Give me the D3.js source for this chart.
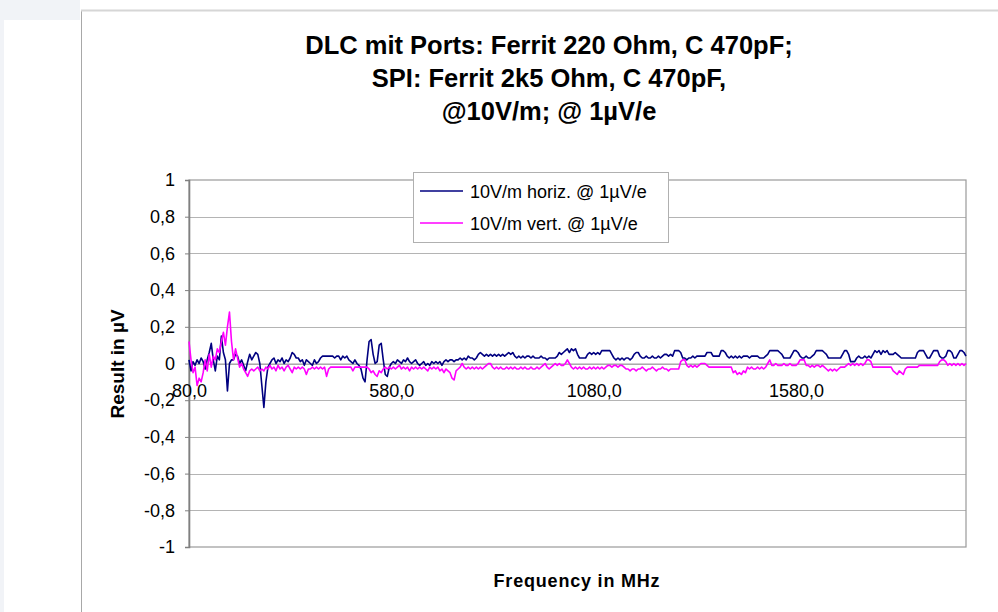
<!DOCTYPE html>
<html><head><meta charset="utf-8">
<script src="https://cdn.jsdelivr.net/npm/d3@7"></script>
<style>
body{margin:0;background:#fff;}
svg{display:block;font-family:"Liberation Sans",Arial,Helvetica,sans-serif;}
</style>
</head><body>
<svg id="c" width="998" height="612"></svg>
<script>
// ---------------- data ----------------
const titleLines = ["DLC mit Ports: Ferrit 220 Ohm, C 470pF;", "SPI: Ferrit 2k5 Ohm, C 470pF,", "@10V/m; @ 1µV/e"];
const seriesNames = ["10V/m horiz. @ 1µV/e", "10V/m vert. @ 1µV/e"];
const seriesColors = ["#000080", "#ff00ff"];
const xTitle = "Frequency in MHz";
const yTitle = "Result in µV";
const freqStart = 80, freqEnd = 2000, freqStep = 5;   // MHz
const frequencies = d3.range(freqStart, freqEnd + 1, freqStep);
const xTicks = [80, 580, 1080, 1580];
const yTicks = [1, 0.8, 0.6, 0.4, 0.2, 0, -0.2, -0.4, -0.6, -0.8, -1];

const horizValues = [
 0.02,-0.04,0.01,-0.01,0.02,0.0,0.03,0.01,-0.03,0.02,0.06,0.11,0.02,-0.04,0.04,0.02,0.15,0.06,0.02,-0.15,
 0.0,0.02,0.02,0.05,0.04,0.0,0.02,-0.01,-0.04,0.01,0.05,0.02,0.04,0.06,0.05,0.0,-0.12,-0.24,-0.1,-0.02,
 0.0,0.02,0.03,0.0,0.02,0.01,0.03,0.0,0.02,0.01,0.03,0.06,0.05,0.03,0.03,0.01,0.02,-0.01,0.02,0.01,
 0.0,-0.01,0.02,0.0,0.01,0.03,0.04,0.04,0.04,0.04,0.04,0.04,0.03,0.04,0.04,0.02,0.04,0.03,0.04,0.02,
 0.01,0.0,0.02,0.0,-0.01,-0.03,-0.08,-0.1,0.02,0.12,0.13,0.05,0.0,0.01,0.1,0.11,0.02,-0.06,-0.07,-0.02,
 0.0,0.01,0.0,0.02,0.01,0.0,0.02,0.01,0.03,0.01,0.0,0.01,0.02,0.0,-0.01,0.0,0.01,-0.01,0.0,-0.01,
 0.01,0.0,0.01,0.0,0.01,-0.01,0.01,0.02,0.01,0.02,0.02,0.01,0.02,0.02,0.03,0.02,0.03,0.02,0.04,0.03,
 0.03,0.02,0.03,0.05,0.06,0.05,0.04,0.05,0.04,0.05,0.04,0.05,0.04,0.05,0.04,0.05,0.04,0.05,0.06,0.05,
 0.06,0.04,0.03,0.04,0.03,0.04,0.03,0.04,0.04,0.03,0.04,0.03,0.03,0.03,0.04,0.03,0.03,0.02,0.03,0.03,
 0.03,0.03,0.04,0.06,0.05,0.06,0.07,0.08,0.06,0.08,0.07,0.08,0.05,0.03,0.03,0.03,0.03,0.05,0.06,0.05,
 0.06,0.05,0.06,0.05,0.07,0.07,0.07,0.07,0.07,0.05,0.03,0.02,0.03,0.02,0.03,0.02,0.03,0.03,0.02,0.03,
 0.05,0.06,0.06,0.04,0.03,0.03,0.04,0.03,0.03,0.04,0.03,0.03,0.04,0.03,0.04,0.05,0.05,0.04,0.05,0.04,
 0.07,0.07,0.07,0.06,0.03,0.03,0.02,0.03,0.03,0.04,0.03,0.04,0.04,0.04,0.04,0.04,0.06,0.06,0.06,0.04,
 0.04,0.04,0.04,0.07,0.07,0.06,0.04,0.03,0.04,0.03,0.04,0.03,0.04,0.03,0.04,0.04,0.04,0.03,0.04,0.04,
 0.04,0.04,0.03,0.03,0.03,0.04,0.05,0.07,0.07,0.07,0.07,0.07,0.06,0.05,0.03,0.03,0.03,0.03,0.05,0.07,
 0.07,0.06,0.04,0.03,0.03,0.04,0.03,0.03,0.04,0.05,0.07,0.07,0.07,0.07,0.06,0.05,0.03,0.03,0.03,0.03,
 0.03,0.03,0.03,0.05,0.07,0.07,0.05,0.01,0.01,0.01,0.03,0.04,0.03,0.03,0.04,0.03,0.04,0.03,0.05,0.07,
 0.06,0.07,0.05,0.07,0.06,0.07,0.05,0.05,0.05,0.06,0.05,0.04,0.03,0.03,0.03,0.03,0.03,0.03,0.03,0.03,
 0.06,0.07,0.07,0.07,0.05,0.03,0.03,0.05,0.07,0.07,0.07,0.04,0.03,0.03,0.04,0.07,0.07,0.06,0.03,0.03,
 0.05,0.07,0.07,0.06,0.04
];

const vertValues = [
 0.12,0.02,-0.05,-0.02,-0.12,-0.08,-0.1,-0.05,0.02,-0.04,0.05,-0.02,0.04,0.02,0.08,0.06,0.12,0.17,0.1,0.2,
 0.28,0.12,0.02,0.08,0.03,-0.02,0.0,-0.03,-0.05,-0.07,-0.04,-0.03,-0.04,-0.03,-0.02,-0.04,-0.03,-0.04,-0.02,-0.03,
 -0.01,-0.03,-0.02,-0.04,-0.01,-0.03,-0.02,-0.04,-0.02,-0.01,-0.03,-0.05,-0.02,-0.03,-0.02,-0.03,-0.02,-0.03,-0.06,-0.03,
 -0.03,-0.02,-0.03,-0.02,-0.03,-0.02,-0.03,-0.02,-0.07,-0.03,-0.02,-0.02,-0.02,-0.02,-0.02,-0.02,-0.02,-0.02,-0.02,-0.02,
 -0.02,-0.04,-0.02,-0.02,-0.02,-0.02,-0.02,-0.02,-0.02,-0.03,-0.05,-0.04,-0.06,-0.07,-0.04,-0.05,-0.03,-0.02,-0.03,-0.02,
 -0.03,-0.02,-0.03,-0.02,-0.01,-0.03,-0.02,-0.03,-0.02,-0.04,-0.02,-0.03,-0.02,-0.03,-0.02,-0.03,-0.02,-0.03,-0.04,-0.02,
 -0.03,-0.02,-0.03,-0.02,-0.04,-0.03,-0.05,-0.03,-0.04,-0.05,-0.08,-0.09,-0.04,-0.03,-0.02,0.0,-0.02,-0.03,-0.02,-0.03,
 -0.02,-0.03,-0.02,-0.03,-0.02,-0.03,-0.02,-0.01,0.0,0.0,-0.02,-0.03,-0.02,-0.03,-0.02,-0.03,-0.03,-0.02,-0.03,-0.02,
 -0.03,-0.02,-0.03,-0.03,-0.02,-0.03,-0.02,-0.03,-0.03,-0.02,-0.03,-0.03,-0.02,-0.03,-0.02,-0.01,0.0,-0.02,-0.03,-0.02,
 -0.01,0.0,-0.01,0.0,-0.01,-0.01,0.0,0.02,0.0,-0.02,-0.03,-0.02,-0.03,-0.02,-0.03,-0.02,-0.03,-0.03,-0.02,-0.03,
 -0.02,-0.03,-0.02,-0.03,-0.02,-0.03,-0.02,-0.01,-0.01,-0.02,-0.01,-0.01,-0.02,-0.01,-0.01,-0.02,-0.03,-0.03,-0.04,-0.03,
 -0.03,-0.04,-0.03,-0.03,-0.02,-0.03,-0.04,-0.03,-0.03,-0.02,-0.03,-0.04,-0.03,-0.03,-0.02,-0.03,-0.03,-0.04,-0.03,-0.03,
 -0.03,-0.03,-0.03,0.01,0.02,0.02,-0.01,-0.02,-0.01,-0.02,-0.01,-0.02,-0.01,0.0,0.0,0.0,-0.01,-0.02,-0.02,-0.02,
 -0.02,-0.02,-0.02,-0.02,-0.02,-0.02,-0.02,-0.02,-0.02,-0.05,-0.04,-0.06,-0.05,-0.06,-0.04,-0.05,-0.02,-0.03,-0.02,-0.03,
 -0.03,-0.02,-0.03,-0.02,-0.03,-0.02,0.0,0.02,-0.01,-0.01,0.0,-0.01,-0.01,-0.01,0.0,-0.01,-0.01,0.0,-0.01,-0.01,
 -0.01,0.0,0.02,0.02,0.02,-0.01,-0.01,-0.02,-0.01,-0.02,-0.01,-0.01,-0.02,-0.01,-0.02,-0.03,-0.04,-0.03,-0.04,-0.03,
 -0.04,-0.03,-0.02,-0.02,-0.02,-0.01,0.0,-0.01,0.0,-0.01,0.0,-0.01,0.0,-0.01,0.0,0.02,0.02,0.01,-0.02,-0.02,
 -0.02,-0.02,-0.02,-0.02,-0.02,-0.02,-0.02,-0.02,-0.04,-0.05,-0.06,-0.04,-0.05,-0.06,-0.03,-0.02,-0.02,-0.02,-0.02,-0.02,
 -0.02,-0.01,-0.01,-0.01,-0.01,-0.01,-0.01,-0.01,-0.01,-0.01,-0.01,0.01,0.02,0.02,0.01,-0.01,0.0,-0.01,0.0,-0.01,
 0.0,-0.01,0.0,-0.01,0.0
];

const seriesValues = [horizValues, vertValues];

// ---------------- drawing ----------------
const svg = d3.select("#c");
const W = 998, H = 612;
const plot = {left: 189, right: 966, top: 180, bottom: 547};

// page decoration
svg.append("rect").attr("x", 0).attr("y", 0).attr("width", W).attr("height", H).attr("fill", "#ffffff");
svg.append("rect").attr("x", 0).attr("y", 0).attr("width", 80).attr("height", 20).attr("fill", "#f1f3f7");
svg.append("rect").attr("x", 0).attr("y", 0).attr("width", 4).attr("height", H).attr("fill", "#f1f3f7");
svg.append("line").attr("x1", 81.5).attr("x2", 81.5).attr("y1", 10).attr("y2", H).attr("stroke", "#a8a8a8").attr("stroke-width", 1);
svg.append("line").attr("x1", 81).attr("x2", W).attr("y1", 10.5).attr("y2", 10.5).attr("stroke", "#d6d6d6").attr("stroke-width", 2);

const x = d3.scaleLinear().domain([freqStart, freqEnd]).range([plot.left, plot.right]);
const y = d3.scaleLinear().domain([-1, 1]).range([plot.bottom, plot.top]);

// title
svg.append("g").selectAll("text").data(titleLines).join("text")
  .attr("x", 549).attr("y", (d, i) => 54 + i * 33)
  .attr("text-anchor", "middle").attr("font-size", 25.5).attr("font-weight", "bold").attr("fill", "#000")
  .text(d => d);

// gridlines
svg.append("g").selectAll("line").data(yTicks.filter(t => t !== -1 && t !== 1)).join("line")
  .attr("x1", plot.left).attr("x2", plot.right)
  .attr("y1", d => Math.round(y(d)) + 0.5).attr("y2", d => Math.round(y(d)) + 0.5)
  .attr("stroke", "#b4b4b4").attr("stroke-width", 1);

// plot border
svg.append("rect").attr("x", plot.left).attr("y", plot.top)
  .attr("width", plot.right - plot.left).attr("height", plot.bottom - plot.top)
  .attr("fill", "none").attr("stroke", "#9a9a9a").attr("stroke-width", 1.2);

// y axis
const yAxis = d3.axisLeft(y).tickValues(yTicks).tickSize(4).tickPadding(10)
  .tickFormat(d => String(d).replace(".", ","));
const gy = svg.append("g").attr("transform", `translate(${plot.left},0)`).call(yAxis);
gy.select(".domain").attr("stroke", "#808080").attr("stroke-width", 1.6);
gy.selectAll(".tick line").attr("stroke", "#808080");
gy.selectAll(".tick text").attr("font-size", 18).attr("fill", "#000")
  .attr("font-family", "'Liberation Sans',Arial,sans-serif");

// x axis at y=0
const xAxis = d3.axisBottom(x).tickValues(xTicks).tickSize(0).tickPadding(0)
  .tickFormat(d => d.toFixed(1).replace(".", ","));
const gx = svg.append("g").attr("transform", `translate(0,${y(0)})`).call(xAxis);
gx.select(".domain").attr("stroke", "#a0a0a0").attr("stroke-width", 1);
gx.selectAll(".tick text").attr("font-size", 18).attr("fill", "#000")
  .attr("font-family", "'Liberation Sans',Arial,sans-serif").attr("dy", 0).attr("y", 33);

// series lines
const line = d3.line().x((d, i) => x(frequencies[i])).y(d => y(d));
svg.append("g").selectAll("path").data(seriesValues).join("path")
  .attr("d", d => line(d))
  .attr("fill", "none").attr("stroke", (d, i) => seriesColors[i]).attr("stroke-width", 1.6)
  .attr("stroke-linejoin", "round");

// redraw x tick labels on top
// axis titles
svg.append("text").attr("transform", "translate(124,364) rotate(-90)")
  .attr("text-anchor", "middle").attr("font-size", 19).attr("font-weight", "bold").text(yTitle);
svg.append("text").attr("x", 577).attr("y", 587)
  .attr("text-anchor", "middle").attr("font-size", 18).attr("font-weight", "bold")
  .attr("letter-spacing", 0.8).text(xTitle);

// legend
const lg = svg.append("g");
lg.append("rect").attr("x", 413.5).attr("y", 172.5).attr("width", 255).attr("height", 70)
  .attr("fill", "#fff").attr("stroke", "#b0b0b0").attr("stroke-width", 1);
const items = lg.selectAll("g").data(seriesNames).join("g")
  .attr("transform", (d, i) => `translate(0,${191 + i * 32})`);
items.append("line").attr("x1", 420).attr("x2", 463).attr("y1", 0).attr("y2", 0)
  .attr("stroke", (d, i) => seriesColors[i]).attr("stroke-width", 1.6);
items.append("text").attr("x", 470).attr("y", 6.5).attr("font-size", 18).attr("fill", "#000").text(d => d);
</script>
</body></html>
